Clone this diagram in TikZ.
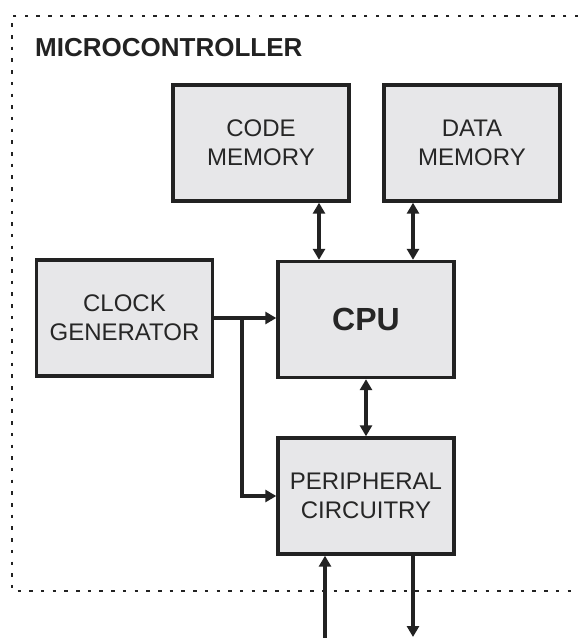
\documentclass[tikz,border=0pt]{standalone}
\usepackage{fontspec}
\setmainfont{Liberation Sans}
\usetikzlibrary{arrows.meta}
\definecolor{boxfill}{HTML}{E7E7E9}
\definecolor{ink}{HTML}{222222}
\definecolor{txt}{HTML}{262626}
\tikzset{
  blk/.style={draw=ink, line width=3.4pt, fill=boxfill, minimum width=176pt, minimum height=116pt,
    inner sep=0pt, align=center, text=txt, font={\fontsize{24}{28.7}\selectfont}},
  conn/.style={draw=ink, line width=3.6pt, -{Triangle[length=11pt,width=12pt]}},
  bconn/.style={draw=ink, line width=3.6pt, {Triangle[length=11pt,width=12pt]}-{Triangle[length=11pt,width=12pt]}},
  border/.style={draw=ink, line width=2.8pt, dash pattern=on 3.5pt off 8.2pt}
}
\begin{document}
\begin{tikzpicture}[x=1pt, y=-1pt]
\useasboundingbox (0,0) rectangle (578,638);
% border
\draw[border] (578,16) -- (12,16) -- (12,591) -- (578,591);
\node[anchor=base west, inner sep=0pt, text=ink, font={\fontsize{26}{30}\selectfont\bfseries}] (title) at (35,56) {MICROCONTROLLER};
% blocks
\node[blk] (code) at (261,143) {CODE\\MEMORY};
\node[blk] (data) at (472,143) {DATA\\MEMORY};
\node[blk, font={\fontsize{32}{36}\selectfont\bfseries}] (cpu) at (366,319.5) {CPU};
\node[blk] (clock) at (124.5,318) {CLOCK\\GENERATOR};
\node[blk] (peri) at (366,496) {PERIPHERAL\\CIRCUITRY};
% connectors
\draw[bconn] ([xshift=58pt]code.south) -- ([xshift=58pt]code.south |- cpu.north);
\draw[bconn] ([xshift=-59pt]data.south) -- ([xshift=-59pt]data.south |- cpu.north);
\draw[bconn] (cpu.south) -- (peri.north);
\draw[conn] (clock.east) -- (clock.east -| cpu.west);
\coordinate (br) at (242,318);
\draw[conn] (br) |- (peri.west);
\coordinate (inp) at (325,645);
\coordinate (outp) at (413,637);
\draw[conn] (inp) -- (inp |- peri.south);
\draw[conn] (outp |- peri.south) -- (outp);
\end{tikzpicture}
\end{document}
